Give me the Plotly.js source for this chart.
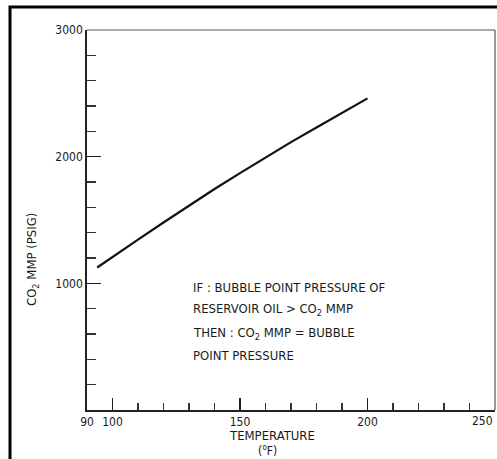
<!DOCTYPE html>
<html>
<head>
<meta charset="utf-8">
<script src="https://cdn.plot.ly/plotly-3.0.1.min.js"></script>
<style>
  html, body { margin: 0; padding: 0; background: #fff; }
  #chart { width: 497px; height: 459px; }
</style>
</head>
<body>
<div id="chart"></div>
<script>
// ---- data ----
const temperatureF = [94, 100, 110, 120, 130, 140, 150, 160, 170, 180, 190, 200];
const mmpPsig      = [1125, 1205, 1345, 1480, 1615, 1745, 1870, 1995, 2115, 2230, 2345, 2460];

const xTickVals = [90, 100, 150, 200, 250];
const xTickText = ['90', '100', '150', '200', '250'];
const yTickVals = [1000, 2000, 3000];
const yTickText = ['1000', '2000', '3000'];

const xTitle = 'TEMPERATURE';
const xUnit = '(<sup>o</sup>F)';
const yTitle = 'CO<sub>2</sub> MMP (PSIG)';
const noteLines = [
  'IF : BUBBLE POINT PRESSURE OF',
  'RESERVOIR OIL &gt; CO<sub>2</sub> MMP',
  'THEN : CO<sub>2</sub> MMP = BUBBLE',
  'POINT PRESSURE'
];

// ---- layout helpers ----
const W = 497, H = 459;
const M = { l: 87, r: 2, t: 30, b: 49 };
const PW = W - M.l - M.r, PH = H - M.t - M.b;
const px = x => (x - M.l) / PW;          // pixel -> paper x
const py = y => (H - M.b - y) / PH;      // pixel -> paper y

const FONT = 'Liberation Sans Narrow, DejaVu Sans Condensed, Arial Narrow, sans-serif';
const INK = '#1a1a1a';

const noteY = [278, 299, 323, 346];
const annotations = noteLines.map((t, i) => ({
  text: t, xref: 'paper', yref: 'paper',
  x: px(191), y: py(noteY[i]), xanchor: 'left', yanchor: 'top',
  showarrow: false, font: { family: FONT, size: 13, color: INK }
}));
annotations.push({
  text: xTitle, xref: 'paper', yref: 'paper', x: px(272), y: py(435),
  xanchor: 'center', yanchor: 'middle', showarrow: false,
  font: { family: FONT, size: 13, color: INK }
});
annotations.push({
  text: xUnit, xref: 'paper', yref: 'paper', x: px(267), y: py(450),
  xanchor: 'center', yanchor: 'middle', showarrow: false,
  font: { family: FONT, size: 12, color: INK }
});
annotations.push({
  text: yTitle, xref: 'paper', yref: 'paper', x: px(32), y: py(260),
  xanchor: 'center', yanchor: 'middle', textangle: -90, showarrow: false,
  font: { family: FONT, size: 13, color: INK }
});
// the last x tick label sits flush with the page edge
annotations.push({
  text: xTickText[xTickText.length - 1], xref: 'x', yref: 'paper',
  x: xTickVals[xTickVals.length - 1], y: py(421),
  xanchor: 'right', yanchor: 'middle', showarrow: false,
  font: { family: FONT, size: 12, color: INK }
});

const shapes = [
  // outer page frame (left + top)
  { type: 'path', xref: 'paper', yref: 'paper',
    path: `M ${px(10)} ${py(459)} L ${px(10)} ${py(7)} L ${px(497)} ${py(7)}`,
    line: { color: '#000', width: 3 } },
  // top and right borders of the plot box
  { type: 'line', xref: 'paper', yref: 'paper', x0: 0, x1: 1, y0: 1, y1: 1,
    line: { color: '#555', width: 1 } },
  { type: 'line', xref: 'paper', yref: 'paper', x0: 1, x1: 1, y0: 0, y1: 1,
    line: { color: '#333', width: 1 } }
];

const trace = {
  x: temperatureF, y: mmpPsig, type: 'scatter', mode: 'lines',
  line: { color: '#111', width: 2.2 }, hoverinfo: 'skip'
};

const layout = {
  width: W, height: H,
  margin: M,
  paper_bgcolor: '#fff', plot_bgcolor: '#fff',
  showlegend: false,
  font: { family: FONT, size: 12, color: INK },
  xaxis: {
    range: [90, 250], showgrid: false, zeroline: false,
    showline: true, linecolor: '#222', linewidth: 1.5,
    tickmode: 'array', tickvals: xTickVals,
    ticktext: xTickText.map((t, i) => i === xTickText.length - 1 ? '' : t),
    ticks: 'inside', ticklen: 12, tickwidth: 1.3, tickcolor: '#222',
    minor: { dtick: 10, tick0: 0, ticks: 'inside', ticklen: 7, tickwidth: 1.2, tickcolor: '#333', showgrid: false },
    tickfont: { family: FONT, size: 12, color: INK }
  },
  yaxis: {
    range: [0, 3000], showgrid: false, zeroline: false,
    showline: true, linecolor: '#222', linewidth: 1.8,
    tickmode: 'array', tickvals: yTickVals, ticktext: yTickText,
    ticks: 'inside', ticklen: 14, tickwidth: 1.4, tickcolor: '#222',
    minor: { dtick: 200, tick0: 0, ticks: 'inside', ticklen: 9, tickwidth: 1.2, tickcolor: '#333', showgrid: false },
    tickfont: { family: FONT, size: 12, color: INK }
  },
  annotations: annotations,
  shapes: shapes
};

Plotly.newPlot('chart', [trace], layout, { displayModeBar: false, staticPlot: true });
</script>
</body>
</html>
